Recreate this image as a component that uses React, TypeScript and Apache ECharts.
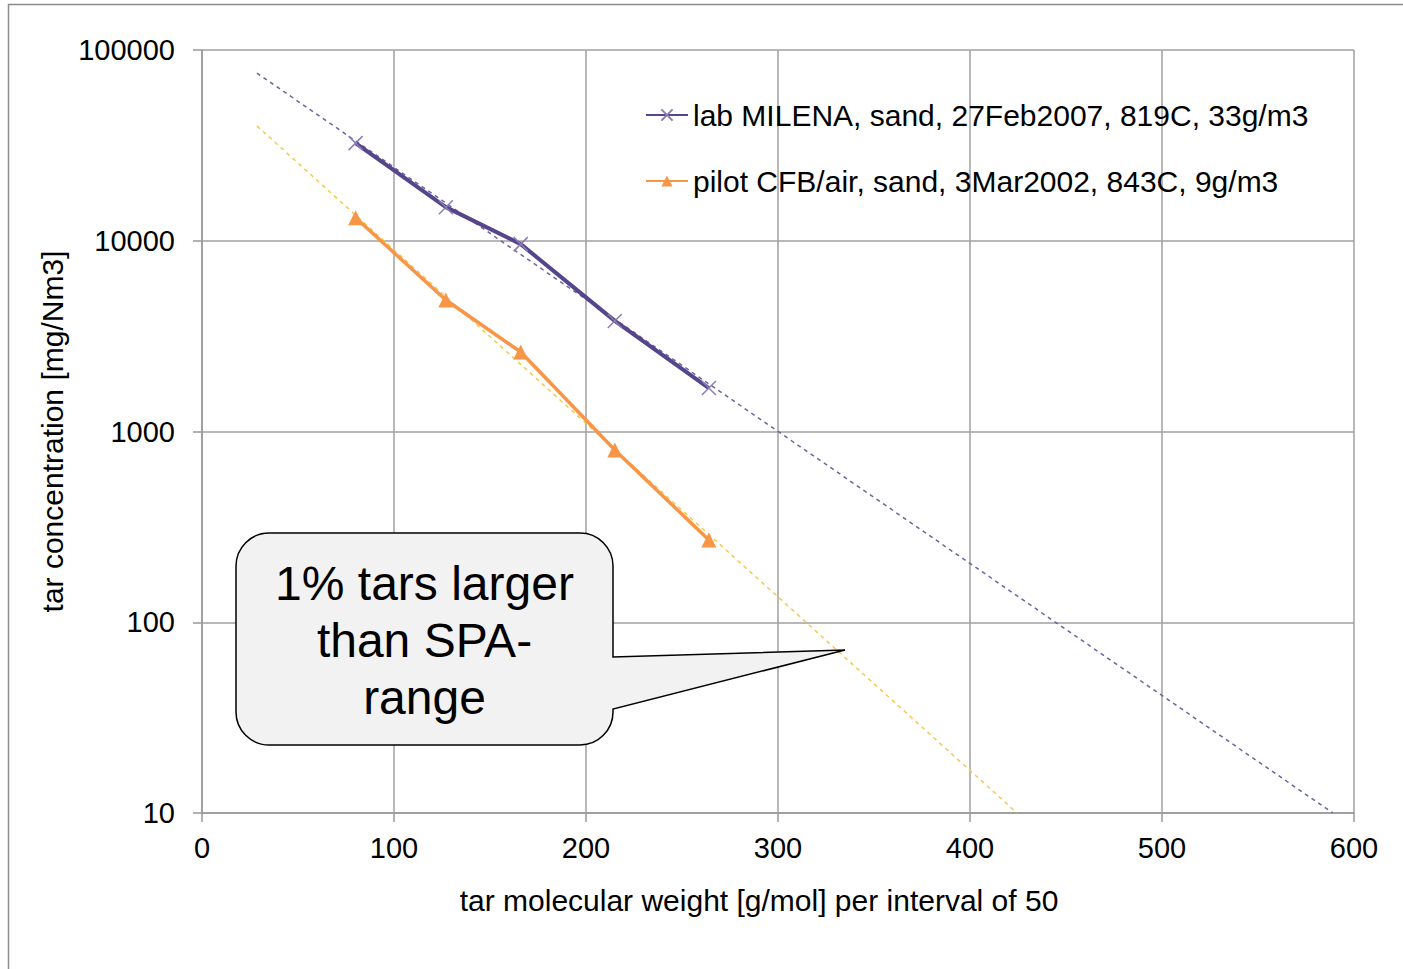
import React, { useEffect, useRef } from "react";
import * as echarts from "echarts";

// ---- data ----
const milenaName = "lab MILENA, sand, 27Feb2007, 819C, 33g/m3";
const pilotName = "pilot CFB/air, sand, 3Mar2002, 843C, 9g/m3";

const milenaX = [80, 127, 166, 215, 264];
const milenaY = [32500, 15000, 9600, 3800, 1690];

const pilotX = [80, 127, 166, 215, 264];
const pilotY = [13200, 4890, 2610, 800, 270];

// exponential trend lines (straight on log axis): endpoints
const milenaTrendX = [28.6, 589];
const milenaTrendY = [75700, 10];
const pilotTrendX = [28.6, 424.5];
const pilotTrendY = [40000, 10];

const xTicks = [0, 100, 200, 300, 400, 500, 600];
const yTicks = [10, 100, 1000, 10000, 100000];

const calloutLines = ["1% tars larger", "than SPA-", "range"];

const xName = "tar molecular weight [g/mol] per interval of 50";
const yName = "tar concentration [mg/Nm3]";

const zip = (xs: number[], ys: number[]) => xs.map((x, i) => [x, ys[i]]);

const PURPLE = "#55458a";
const PURPLE_MARK = "#8a7db5";
const PURPLE_TREND = "#6e62a0";
const ORANGE = "#f79646";
const ORANGE_TREND = "#f6c84e";
const FONT = "'Liberation Sans', Arial, sans-serif";

const calloutPath =
  "M33 0 H344 C362.2 0 377 14.8 377 33 V124 L609 117 L377 176 V179 C377 197.2 362.2 212 344 212 H33 C14.8 212 0 197.2 0 179 V33 C0 14.8 14.8 0 33 0 Z";

let registered = false;

export default function App() {
  const ref = useRef<HTMLDivElement>(null);
  useEffect(() => {
    if (!ref.current) return;
    if (!registered) {
      echarts.graphic.registerShape("callout", echarts.graphic.extendPath(calloutPath, {}) as any);
      registered = true;
    }
    const chart = echarts.init(ref.current, undefined, { renderer: "svg" });
    chart.setOption({
      animation: false,
      backgroundColor: "#ffffff",
      grid: { left: 202, right: 49, top: 50, bottom: 156, containLabel: false },
      legend: {
        data: [milenaName, pilotName],
        orient: "vertical",
        left: 640,
        top: 95,
        itemWidth: 42,
        itemHeight: 14,
        itemGap: 36,
        textStyle: { fontFamily: FONT, fontSize: 30, color: "#000", lineHeight: 30 },
      },
      xAxis: {
        type: "value",
        min: 0,
        max: 600,
        interval: 100,
        name: xName,
        nameLocation: "middle",
        nameGap: 72,
        nameTextStyle: { fontFamily: FONT, fontSize: 30, color: "#000", padding: [0, 38, 0, 0] },
        axisLine: { show: true, lineStyle: { color: "#999", width: 1.5 } },
        axisTick: { show: true, length: 9, lineStyle: { color: "#999", width: 1.5 } },
        axisLabel: {
          fontFamily: FONT,
          fontSize: 29,
          color: "#000",
          margin: 20,
          formatter: (v: number) => (xTicks.includes(v) ? String(v) : ""),
        },
        splitLine: { show: true, lineStyle: { color: "#a0a0a0", width: 1.5 } },
      },
      yAxis: {
        type: "log",
        logBase: 10,
        min: yTicks[0],
        max: yTicks[yTicks.length - 1],
        name: yName,
        nameLocation: "middle",
        nameGap: 134,
        nameTextStyle: { fontFamily: FONT, fontSize: 30, color: "#000" },
        axisLine: { show: true, lineStyle: { color: "#999", width: 1.5 } },
        axisTick: { show: true, length: 9, lineStyle: { color: "#999", width: 1.5 } },
        axisLabel: {
          fontFamily: FONT,
          fontSize: 29,
          color: "#000",
          margin: 27,
          formatter: (v: number) => String(Math.round(v)),
        },
        splitLine: { show: true, lineStyle: { color: "#a0a0a0", width: 1.5 } },
      },
      series: [
        {
          name: "milenaTrend",
          type: "line",
          data: zip(milenaTrendX, milenaTrendY),
          showSymbol: false,
          silent: true,
          lineStyle: { color: PURPLE_TREND, width: 1.5, type: [4, 4] },
          z: 1,
        },
        {
          name: "pilotTrend",
          type: "line",
          data: zip(pilotTrendX, pilotTrendY),
          showSymbol: false,
          silent: true,
          lineStyle: { color: ORANGE_TREND, width: 1.5, type: [4, 4] },
          z: 1,
        },
        {
          name: milenaName,
          type: "line",
          data: zip(milenaX, milenaY),
          symbol: "path://M0 0L10 10M10 0L0 10",
          symbolSize: 14,
          color: PURPLE,
          itemStyle: { color: "none", borderColor: PURPLE_MARK, borderWidth: 1.5 },
          lineStyle: { color: PURPLE, width: 4 },
          z: 3,
        },
        {
          name: pilotName,
          type: "line",
          data: zip(pilotX, pilotY),
          symbol: "triangle",
          symbolSize: 15,
          color: ORANGE,
          itemStyle: { color: ORANGE },
          lineStyle: { color: ORANGE, width: 3.5 },
          z: 3,
        },
      ],
      graphic: [
        {
          type: "rect",
          silent: true,
          shape: { x: 8.5, y: 4.5, width: 1420, height: 990 },
          style: { fill: "none", stroke: "#8c8c8c", lineWidth: 1.5 },
          z: 0,
        },
        {
          type: "callout",
          x: 236,
          y: 533,
          silent: true,
          style: { fill: "#f2f2f2", stroke: "#000", lineWidth: 1.5 },
          z: 10,
        },
        {
          type: "text",
          x: 424.5,
          y: 640,
          silent: true,
          style: {
            text: calloutLines.join("\n"),
            fontFamily: FONT,
            fontSize: 48,
            lineHeight: 57,
            fill: "#000",
            align: "center",
            verticalAlign: "middle",
          },
          z: 11,
        },
      ],
    });
    return () => chart.dispose();
  }, []);
  return (
    <div
      ref={ref}
      style={{ position: "absolute", left: 0, top: 0, width: 1403, height: 969 }}
    />
  );
}
